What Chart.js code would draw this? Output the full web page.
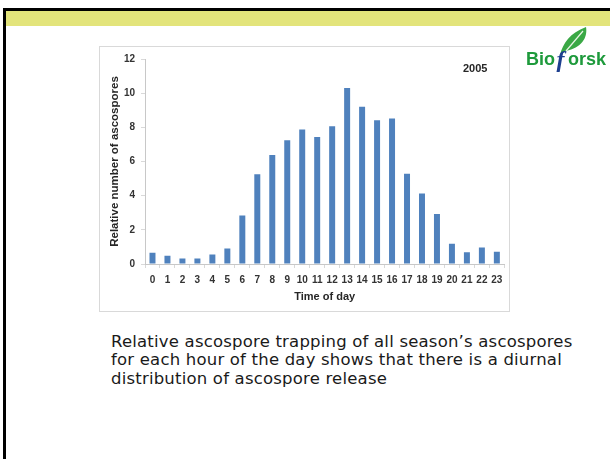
<!DOCTYPE html>
<html>
<head>
<meta charset="utf-8">
<script src="https://cdn.jsdelivr.net/npm/chart.js@4/dist/chart.umd.min.js"></script>
<style>
  html, body { margin: 0; padding: 0; background: #fff; }
  body { width: 610px; height: 459px; position: relative; overflow: hidden; font-family: "Liberation Sans", Arial, sans-serif; }
  .frame-top { position: absolute; left: 3px; top: 8px; width: 607px; height: 3px; background: #000; }
  .frame-left { position: absolute; left: 3px; top: 8px; width: 3px; height: 451px; background: #000; }
  .band { position: absolute; left: 6px; top: 11px; width: 604px; height: 15px; background: #e3e47b; }
  .chart-box { position: absolute; left: 99px; top: 46px; width: 411px; height: 266px; box-sizing: border-box; border: 1px solid #d9d9d9; background: #fff; }
  .chart-box canvas { position: absolute; left: 0; top: 0; }
  .year { position: absolute; left: 463px; top: 63px; font: bold 11px "Liberation Sans", Arial, sans-serif; line-height: 11px; color: #262626; }
  .logo { position: absolute; left: 526px; top: 24px; width: 100px; height: 50px; }
  .logo .word { position: absolute; left: 0; top: 25px; font: bold 18px "Liberation Sans", Arial, sans-serif; line-height: 20px; white-space: nowrap; }
  .logo .g { color: #1e9a3c; }
  .logo .b { display: inline-block; width: 13px; margin-left: -1px; margin-right: 1px; color: #1d3f8f; font: italic bold 24px "Liberation Serif", serif; line-height: 20px; text-align: center; vertical-align: top; }
  .logo svg { position: absolute; left: 31px; top: 2px; }
  .caption { position: absolute; left: 111px; top: 333px; font: 16.5px "DejaVu Sans", Verdana, sans-serif; letter-spacing: 0.2px; line-height: 18.3px; color: #1a1a1a; white-space: nowrap; }
</style>
</head>
<body>
<div class="frame-top"></div>
<div class="frame-left"></div>
<div class="band"></div>

<div class="chart-box"><canvas id="c" width="409" height="264"></canvas></div>
<div class="year">2005</div>

<div class="logo">
  <svg width="34" height="30" viewBox="0 0 34 30">
    <path d="M3 29 C 6 17, 13 7, 29 1 C 31 12, 24 22, 9 25 Z" fill="#3aa845"/>
    <path d="M9 25 C 15 18, 21 11, 26 5" stroke="#e8f5e4" stroke-width="1.2" fill="none"/>
  </svg>
  <div class="word"><span class="g">Bio</span><span class="b">f</span><span class="g">orsk</span></div>
</div>

<div class="caption">Relative ascospore trapping of all season’s ascospores<br>for each hour of the day shows that there is a diurnal<br>distribution of ascospore release</div>

<script>
// Hour of day (x categories)
const hours = ['0','1','2','3','4','5','6','7','8','9','10','11','12','13','14','15','16','17','18','19','20','21','22','23'];
// Relative number of ascospores trapped per hour, 2005
const relativeCounts = [0.66, 0.48, 0.32, 0.32, 0.56, 0.91, 2.84, 5.25, 6.38, 7.25, 7.88, 7.43, 8.07, 10.3, 9.2, 8.42, 8.52, 5.28, 4.12, 2.93, 1.18, 0.69, 0.97, 0.72];
// Value axis ticks
const yTicks = [0, 2, 4, 6, 8, 10, 12];

const tickFont = { family: '"Liberation Sans", Arial, sans-serif', size: 10, weight: 'bold' };
const titleFont = { family: '"Liberation Sans", Arial, sans-serif', size: 11, weight: 'bold' };

new Chart(document.getElementById('c'), {
  type: 'bar',
  data: {
    labels: hours,
    datasets: [{
      data: relativeCounts,
      backgroundColor: '#4f81bd',
      borderWidth: 0,
      barPercentage: 0.4,
      categoryPercentage: 1.0
    }]
  },
  options: {
    responsive: false,
    animation: false,
    layout: { padding: { top: 10, right: 4, bottom: 7, left: 0 } },
    plugins: { legend: { display: false }, tooltip: { enabled: false } },
    scales: {
      x: {
        grid: { drawOnChartArea: false, drawTicks: true, tickLength: 4, color: '#d9d9d9', offset: true },
        border: { color: '#c8c8c8' },
        ticks: { font: tickFont, color: '#333333', padding: 6.5, maxRotation: 0, autoSkip: false },
        title: { display: true, text: 'Time of day', font: titleFont, color: '#262626', padding: { top: 0, bottom: 0.5 } },
        afterFit: (s) => { s.height = 40; }
      },
      y: {
        min: 0,
        max: 12,
        afterBuildTicks: (s) => { s.ticks = yTicks.map(v => ({ value: v })); },
        grid: { drawOnChartArea: false, drawTicks: true, tickLength: 4, color: '#d9d9d9' },
        border: { color: '#c8c8c8' },
        ticks: { font: tickFont, color: '#333333', padding: 6 },
        title: { display: true, text: 'Relative number of ascospores', font: { ...titleFont, size: 11.5 }, color: '#262626', padding: { top: 8, bottom: 0 } },
        afterFit: (s) => { s.width = 45; }
      }
    }
  }
});
</script>
</body>
</html>
